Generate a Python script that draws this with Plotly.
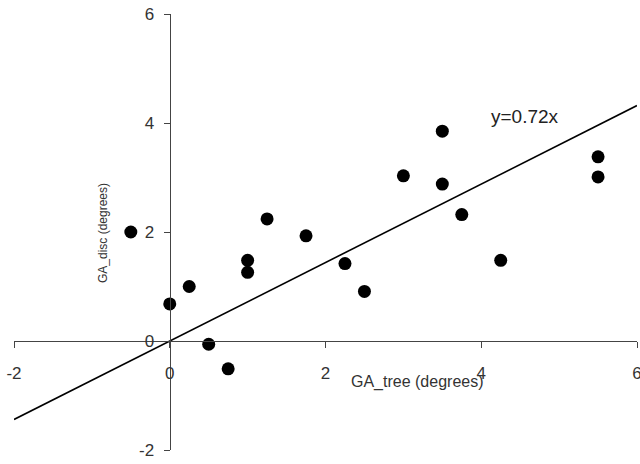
import plotly.graph_objects as go

ga_tree = [-0.5, 0.0, 0.25, 0.5, 0.75, 1.0, 1.0, 1.25, 1.75, 2.25, 2.5, 3.0, 3.5, 3.5, 3.75, 4.25, 5.5, 5.5]
ga_disc = [2.0, 0.68, 1.0, -0.06, -0.51, 1.48, 1.26, 2.24, 1.93, 1.42, 0.91, 3.03, 3.85, 2.88, 2.32, 1.48, 3.38, 3.01]
slope = 0.72
fit_x = [-2, 6]
fit_y = [slope * v for v in fit_x]
tick_vals = [-2, 0, 2, 4, 6]
tick_text = ["-2", "0", "2", "4", "6"]

font_family = "Liberation Sans, Arial, sans-serif"

fig = go.Figure()
fig.add_trace(go.Scatter(x=fit_x, y=fit_y, mode="lines",
                         line=dict(color="black", width=1.6), showlegend=False,
                         cliponaxis=False))
fig.add_trace(go.Scatter(x=ga_tree, y=ga_disc, mode="markers",
                         marker=dict(color="black", size=13), showlegend=False,
                         cliponaxis=False))

axis_common = dict(range=[-2, 6], tickvals=tick_vals, ticktext=tick_text,
                   showgrid=False, zeroline=False, showline=True,
                   linecolor="#444", linewidth=1.3, ticks="outside",
                   tickcolor="#444", ticklen=6, tickwidth=1.3,
                   tickfont=dict(family=font_family, size=17, color="#333"),
                   anchor="free", position=0.25, automargin=False,
                   ticklabeloverflow="allow")

fig.update_layout(
    width=640, height=464,
    margin=dict(l=14, r=3, t=14, b=14, autoexpand=False),
    paper_bgcolor="white", plot_bgcolor="white",
    xaxis=dict(**axis_common, ticklabelstandoff=10),
    yaxis=dict(**axis_common, ticklabelstandoff=6),
    font=dict(family=font_family),
)

fig.add_annotation(x=4.56, y=4.12, text="y=0.72x", showarrow=False,
                   font=dict(family=font_family, size=19, color="#222"))
fig.add_annotation(x=(418 - 14) / 623, y=(450 - 382) / 436, xref="paper", yref="paper",
                   text="GA_tree (degrees)", showarrow=False,
                   xanchor="center", yanchor="middle",
                   font=dict(family=font_family, size=16, color="#333"))
fig.add_annotation(x=(103 - 14) / 623, y=(450 - 233) / 436, xref="paper", yref="paper",
                   text="GA_disc (degrees)", textangle=-90, showarrow=False,
                   xanchor="center", yanchor="middle",
                   font=dict(family=font_family, size=12, color="#333"))

fig.write_html("out.html", config={"displayModeBar": False},
               post_script="document.body.style.margin='0';document.body.style.overflow='hidden';")
